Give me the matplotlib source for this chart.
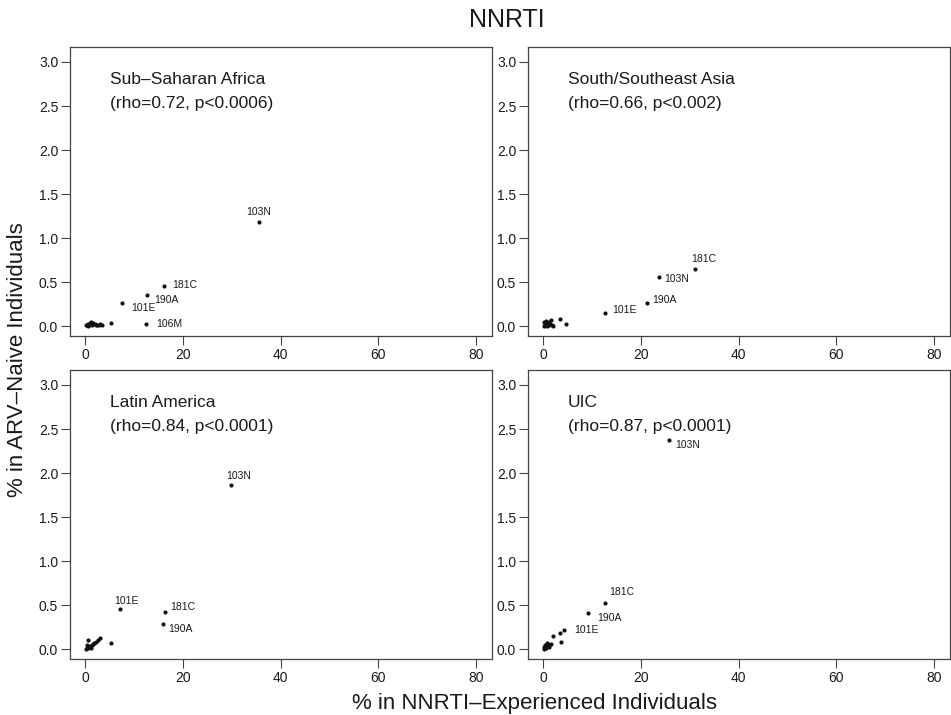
import matplotlib
matplotlib.use("Agg")
import matplotlib.pyplot as plt

plt.rcParams['font.family'] = ['Liberation Sans', 'DejaVu Sans']

# ---------------- data ----------------
regions = ["Sub\u2013Saharan Africa", "South/Southeast Asia", "Latin America", "UIC"]
stats = ["(rho=0.72, p<0.0006)", "(rho=0.66, p<0.002)", "(rho=0.84, p<0.0001)", "(rho=0.87, p<0.0001)"]

# Sub-Saharan Africa
ssa_x = [35.5, 16.2, 12.7, 7.6, 12.5, 5.2, 0.1, 0.3, 0.5, 0.6, 0.8, 1.0, 1.1, 1.3, 1.5, 1.7, 2.0, 2.2, 2.5, 2.8, 3.0, 3.4]
ssa_y = [1.18, 0.46, 0.36, 0.27, 0.03, 0.04, 0.01, 0.02, 0.00, 0.03, 0.02, 0.04, 0.05, 0.03, 0.01, 0.04, 0.03, 0.02, 0.01, 0.02, 0.03, 0.02]
ssa_lab = ["103N", "181C", "190A", "101E", "106M"]

# South/Southeast Asia
sea_x = [31.1, 23.8, 21.3, 12.6, 4.6, 3.4, 1.7, 0.1, 0.2, 0.4, 0.5, 0.7, 0.8, 1.0, 1.2, 1.3, 1.5, 1.9, 2.1, 0.3, 0.6]
sea_y = [0.65, 0.56, 0.265, 0.15, 0.03, 0.08, 0.07, 0.00, 0.05, 0.02, 0.01, 0.04, 0.00, 0.02, 0.05, 0.01, 0.03, 0.02, 0.00, 0.03, 0.06]
sea_lab = ["181C", "103N", "190A", "101E"]

# Latin America
la_x = [29.8, 7.2, 16.4, 16.0, 5.3, 3.1, 2.7, 0.5, 2.2, 0.1, 0.3, 0.4, 0.6, 0.8, 1.0, 1.2, 1.4, 1.6, 1.9]
la_y = [1.86, 0.46, 0.42, 0.29, 0.075, 0.13, 0.10, 0.10, 0.08, 0.00, 0.02, 0.05, 0.01, 0.03, 0.04, 0.02, 0.05, 0.06, 0.07]
la_lab = ["103N", "101E", "181C", "190A"]

# UIC
uic_x = [25.7, 12.6, 9.1, 4.3, 3.4, 2.0, 3.6, 1.6, 0.1, 0.2, 0.4, 0.5, 0.7, 0.9, 1.1, 1.3, 0.3, 0.8]
uic_y = [2.38, 0.52, 0.415, 0.22, 0.18, 0.15, 0.08, 0.06, 0.00, 0.03, 0.05, 0.01, 0.04, 0.06, 0.03, 0.05, 0.02, 0.07]
uic_lab = ["103N", "181C", "190A", "101E"]

x_ticks = [0, 20, 40, 60, 80]
y_ticks = [0.0, 0.5, 1.0, 1.5, 2.0, 2.5, 3.0]

# label offsets in pixels (dx, dy, ha) -- styling only
offs = [
    [(0, 10, 'center'), (8, 1, 'left'), (7, -5, 'left'), (9, -5, 'left'), (10, 0, 'left')],
    [(-4, 10, 'left'), (5, -2, 'left'), (5, 3, 'left'), (8, 3, 'left')],
    [(-4, 9, 'left'), (-6, 8, 'left'), (5, 5, 'left'), (5, -5, 'left')],
    [(7, -5, 'left'), (5, 11, 'left'), (10, -5, 'left'), (10, 0, 'left')],
]

panels = [(ssa_x, ssa_y, ssa_lab), (sea_x, sea_y, sea_lab), (la_x, la_y, la_lab), (uic_x, uic_y, uic_lab)]

W, H = 951, 715
fig = plt.figure(figsize=(W / 100, H / 100), dpi=100)

rects = [
    (70, 47, 492, 336),
    (528, 47, 950, 336),
    (70, 370, 492, 659),
    (528, 370, 950, 659),
]

txtc = '#1a1a1a'
boxc = '#444444'

for i, (l, t, r, b) in enumerate(rects):
    ax = fig.add_axes([l / W, 1 - b / H, (r - l) / W, (b - t) / H])
    xs, ys, labs = panels[i]
    ax.scatter(xs, ys, s=9, c='#111111', linewidths=0, zorder=3)
    for j, lab in enumerate(labs):
        dx, dy, ha = offs[i][j]
        ax.annotate(lab, (xs[j], ys[j]), xytext=(dx * 0.72, dy * 0.72), textcoords='offset points',
                    ha=ha, va='center', fontsize=7.5, color=txtc)
    ax.set_xlim(-3.1, 83.3)
    ax.set_ylim(-0.11, 3.17)
    ax.set_xticks(x_ticks)
    ax.set_yticks(y_ticks)
    ax.set_yticklabels([f"{v:.1f}" for v in y_ticks])
    ax.tick_params(direction='out', length=6.5, width=0.8, colors=boxc, labelcolor=txtc,
                   labelsize=10, pad=2)
    for sp in ax.spines.values():
        sp.set_color(boxc)
        sp.set_linewidth(0.9)
    ax.text(0.095, 0.886, regions[i], transform=ax.transAxes,
            ha='left', va='center', fontsize=12.5, color=txtc)
    ax.text(0.095, 0.803, stats[i], transform=ax.transAxes,
            ha='left', va='center', fontsize=12.5, color=txtc)

fig.text(507 / W, 1 - 20 / H, "NNRTI", ha='center', va='center', fontsize=18, color=txtc)
fig.text(535 / W, 1 - 703 / H, "% in NNRTI\u2013Experienced Individuals", ha='center', va='center',
         fontsize=16, color=txtc)
fig.text(18 / W, 1 - 360 / H, "% in ARV\u2013Naive Individuals", ha='center', va='center',
         rotation=90, fontsize=16, color=txtc)

fig.savefig("out.png", dpi=100)
